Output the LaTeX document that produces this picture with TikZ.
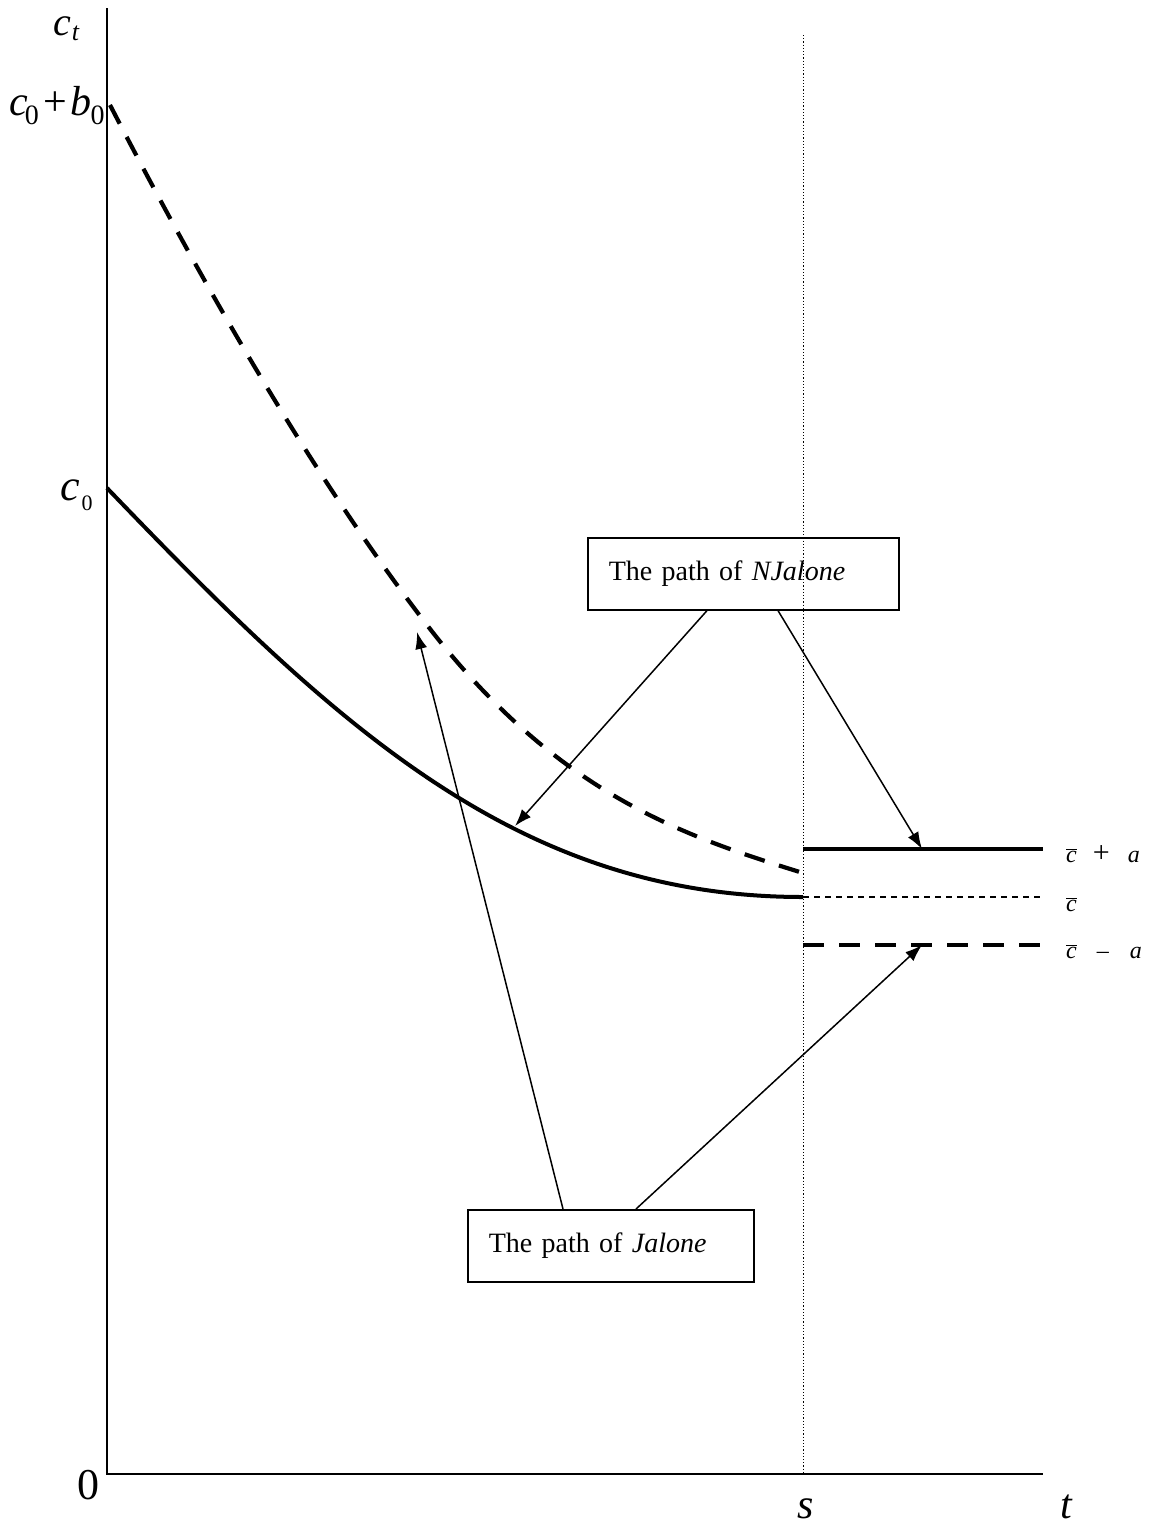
\documentclass[tikz,border=0pt]{standalone}
\usepackage{fontspec}
\setmainfont{Liberation Serif}
\usetikzlibrary{arrows.meta,calc}
\newcommand\mycbar{\ensuremath{\overline{\mbox{\itshape c}}}}
\newcommand\mysub[2]{\raisebox{-#1}{\fontsize{#2}{#2}\selectfont 0}}
\begin{document}
\begin{tikzpicture}[x=1pt,y=-1pt,
  axisline/.style={line width=2.6pt},
  curvethick/.style={line width=4pt},
  bigdash/.style={line width=4.2pt,dash pattern=on 21pt off 15pt},
  thindash/.style={line width=1.2pt,dash pattern=on 6pt off 5pt},
  vdots/.style={line width=1pt,dash pattern=on 1.2pt off 2pt},
  pointer/.style={line width=1.5pt,-{Latex[length=17pt,width=12pt]}},
  callout/.style={draw,line width=1.6pt,align=left,inner xsep=21pt,inner ysep=0pt,
    font=\fontsize{28}{33}\selectfont},
  lab/.style={inner sep=0pt},
  lvl/.style={inner sep=0pt,anchor=base west,font=\fontsize{24}{26}\selectfont}]
\useasboundingbox (0,0) rectangle (1156,1526);
% axes
\draw[axisline] (107,8) -- (107,1474) -- (1043,1474);
% vertical dotted line at s
\draw[vdots] (803,35) -- (803,1474);
% curves
\draw[bigdash] (110,105) .. controls (215,308) and (322,488.5) .. (427,625)
  .. controls (557,794) and (683,835.8) .. (803,873);
\draw[curvethick] (107,488) .. controls (339,730) and (520,897) .. (803,897);
% horizontal levels
\draw[line width=4.6pt] (803,849) -- (1043,849);
\draw[thindash] (803,897) -- (1043,897);
\draw[bigdash] (803,945) -- (1043,945);
% axis labels
\node[lab,anchor=base west,font=\fontsize{40}{42}\selectfont] (ct) at (53,35) {\textit{c}\kern1pt\raisebox{-5pt}{\fontsize{26}{26}\selectfont\textit{t}}};
\node[lab,anchor=base west,font=\fontsize{42}{44}\selectfont] (cb) at (9,115) {\textit{c}\kern-3pt\mysub{9pt}{28}\kern5pt+\kern3pt\textit{b}\kern-1pt\mysub{9pt}{28}};
\node[lab,anchor=base west,font=\fontsize{44}{46}\selectfont] (c0) at (60,500) {\textit{c}\kern2pt\mysub{10pt}{22}};
\node[lab,anchor=base,font=\fontsize{44}{46}\selectfont] (zero) at (88,1499) {0};
\node[lab,anchor=base,font=\fontsize{42}{44}\selectfont] (s) at (806,1518) {\textit{s}};
\node[lab,anchor=base,font=\fontsize{42}{44}\selectfont] (t) at (1067,1518) {\textit{t}};
% level labels
\node[lvl] (lplus) at (1066,862) {\mycbar\hspace{16pt}{\fontsize{30}{30}\selectfont +}\hspace{18pt}\textit{a}};
\node[lvl] (lmid) at (1066,911) {\mycbar};
\node[lvl] (lminus) at (1066,958) {\mycbar\hspace{20pt}--\hspace{21pt}\textit{a}};
% callout boxes
\node[callout,anchor=north west,text width=269pt,minimum height=72pt] (nj) at (587,537) {The path of \textit{NJalone}};
\node[callout,anchor=north west,text width=244pt,minimum height=72pt] (jj) at (467,1209) {The path of \textit{Jalone}};
% arrow targets
\coordinate (tsolid) at (515,826);
\coordinate (tplus) at (922,849);
\coordinate (tdash) at (417,632);
\coordinate (tminus) at (922,945);
\draw[pointer] ([xshift=120pt]nj.south west) -- (tsolid);
\draw[pointer] ([xshift=191pt]nj.south west) -- (tplus);
\draw[pointer] ([xshift=96pt]jj.north west) -- (tdash);
\draw[pointer] ([xshift=169pt]jj.north west) -- (tminus);
\end{tikzpicture}
\end{document}
